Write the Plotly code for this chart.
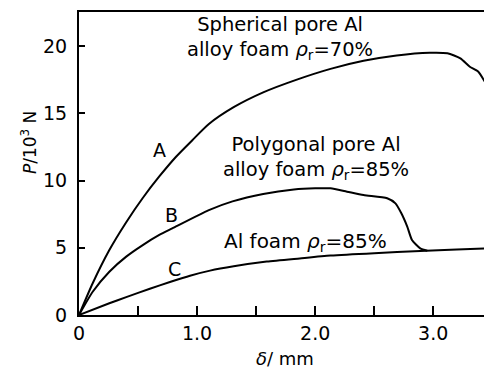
import plotly.graph_objects as go

# Curve A: spherical pore Al alloy foam, rho_r = 70%
xA = [0, 0.116, 0.257, 0.40, 0.54, 0.68, 0.82, 0.96, 1.10, 1.31, 1.56, 1.845, 2.13, 2.41, 2.69, 2.97, 3.12, 3.23, 3.31, 3.38, 3.44]
yA = [0, 2.36, 4.83, 6.9, 8.7, 10.3, 11.75, 13.0, 14.2, 15.45, 16.55, 17.5, 18.3, 18.9, 19.3, 19.5, 19.46, 19.08, 18.46, 18.1, 17.3]

# Curve B: polygonal pore Al alloy foam, rho_r = 85%
xB = [0, 0.116, 0.257, 0.40, 0.54, 0.68, 0.79, 1.10, 1.30, 1.56, 1.82, 2.0, 2.13, 2.27, 2.41, 2.61, 2.68, 2.73, 2.78, 2.82, 2.89, 2.95]
yB = [0, 1.73, 3.22, 4.34, 5.2, 5.95, 6.44, 7.8, 8.45, 9.0, 9.33, 9.42, 9.42, 9.17, 8.92, 8.68, 8.3, 7.56, 6.57, 5.58, 4.96, 4.78]

# Curve C: Al foam, rho_r = 85%
xC = [0, 0.257, 0.40, 0.60, 0.77, 0.94, 1.11, 1.31, 1.59, 1.87, 2.13, 2.5, 2.89, 3.2, 3.46]
yC = [0, 0.87, 1.33, 1.95, 2.45, 2.92, 3.3, 3.62, 3.97, 4.21, 4.42, 4.6, 4.75, 4.87, 4.95]

xtickvals = [0, 1.0, 2.0, 3.0]
xticktext = ["0", "1.0", "2.0", "3.0"]
xminorvals = [0.5, 1.5, 2.5]
ytickvals = [0, 5, 10, 15, 20]
yticktext = ["0", "5", "10", "15", "20"]

FONT = "DejaVu Sans"

fig = go.Figure()
for xs, ys in [(xA, yA), (xB, yB), (xC, yC)]:
    fig.add_trace(go.Scatter(x=xs, y=ys, mode="lines",
                             line=dict(color="black", width=2, shape="spline", smoothing=0.6),
                             showlegend=False, hoverinfo="skip"))

ann = [
    dict(x=0.68, y=12.3, text="A", xanchor="center", size=19),
    dict(x=0.78, y=7.4, text="B", xanchor="center", size=19),
    dict(x=0.805, y=3.4, text="C", xanchor="center", size=19),
    dict(x=1.70, y=20.62, text="Spherical pore Al<br>alloy foam <i>ρ</i><sub>r</sub>=70%", xanchor="center", size=19.5),
    dict(x=2.01, y=11.64, text="Polygonal pore Al<br>alloy foam <i>ρ</i><sub>r</sub>=85%", xanchor="center", size=19.5),
    dict(x=1.21, y=5.4, text="Al foam <i>ρ</i><sub>r</sub>=85%", xanchor="left", size=20),
]
for a in ann:
    fig.add_annotation(x=a["x"], y=a["y"], text=a["text"], showarrow=False, xanchor=a["xanchor"],
                       yanchor="middle", align="center",
                       font=dict(family=FONT, size=a["size"], color="black"))

fig.add_annotation(xref="paper", yref="paper", x=-0.123, y=0.568, xanchor="center", yanchor="middle",
                   text="<i>P</i>/10<sup>3</sup> N",
                   textangle=-90, showarrow=False, font=dict(family=FONT, size=17, color="black"))
fig.add_annotation(xref="paper", yref="paper", x=0.509, y=-0.145, xanchor="center", yanchor="middle",
                   text="<i>δ</i>/ mm", showarrow=False, font=dict(family=FONT, size=18, color="black"))

fig.update_xaxes(range=[0, 3.43], tickvals=xtickvals, ticktext=xticktext, ticks="inside",
                 ticklen=9, tickwidth=1.5, tickcolor="black", showline=True, linecolor="black",
                 linewidth=2, mirror=True, showgrid=False, zeroline=False,
                 minor=dict(tickvals=xminorvals, ticks="inside", ticklen=9, tickwidth=1.5,
                            tickcolor="black", showgrid=False),
                 tickfont=dict(family=FONT, size=19, color="black"))
fig.update_yaxes(range=[0, 22.53], tickvals=ytickvals, ticktext=yticktext, ticks="inside",
                 ticklen=6, tickwidth=1.5, tickcolor="black", showline=True, linecolor="black",
                 linewidth=2, showgrid=False, zeroline=False, ticklabelstandoff=6,
                 tickfont=dict(family=FONT, size=19, color="black"))

fig.update_layout(width=484, height=371, margin=dict(l=79, r=0, t=12, b=56),
                  plot_bgcolor="white", paper_bgcolor="white")

fig.write_html("out.html", config={"displayModeBar": False},
               post_script="document.body.style.margin='0px';")
